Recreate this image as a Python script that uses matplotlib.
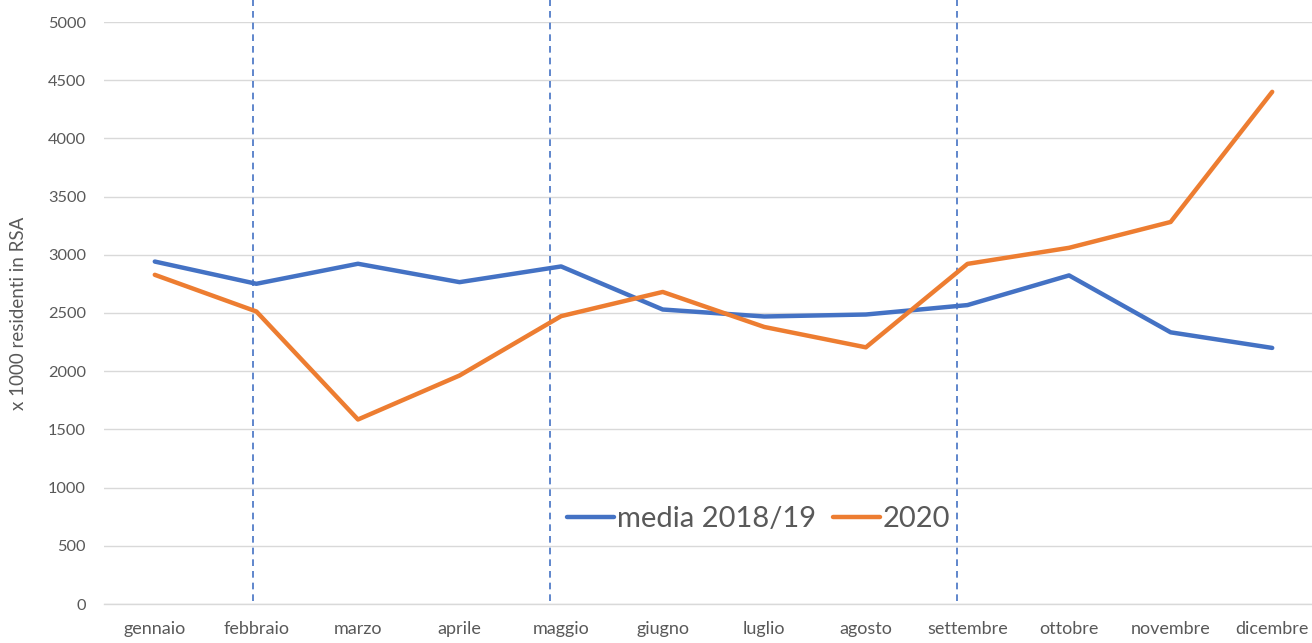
import numpy as np
import matplotlib
matplotlib.use('Agg')
import matplotlib.pyplot as plt

# Values
months = ['gennaio', 'febbraio', 'marzo', 'aprile', 'maggio', 'giugno',
          'luglio', 'agosto', 'settembre', 'ottobre', 'novembre', 'dicembre']
media_2018_19 = [2942, 2751, 2923, 2765, 2900, 2530, 2470, 2487, 2568, 2823, 2334, 2200]
anno_2020 = [2828, 2513, 1585, 1963, 2473, 2681, 2380, 2205, 2922, 3060, 3282, 4400]
# positions of the dashed markers (in category units, hand-drawn in the original)
markers = [0.97, 3.89, 7.90]

plt.rcParams['font.family'] = ['Lato', 'DejaVu Sans']
grey = '#595959'
blue = '#4472C4'
orange = '#ED7D31'

fig = plt.figure(figsize=(13.12, 6.43), dpi=100)
ax = fig.add_axes([104/1312, 39/643, 1219/1312, 582/643])

x = np.arange(len(months))
ax.plot(x, media_2018_19, color=blue, lw=3.2, solid_capstyle='round',
        solid_joinstyle='round', label='media 2018/19', zorder=3)
ax.plot(x, anno_2020, color=orange, lw=3.2, solid_capstyle='round',
        solid_joinstyle='round', label='2020', zorder=3)

# dashed vertical lines run up to the top of the picture
for m in markers:
    ax.plot([m, m], [30, 5190], color=blue, lw=1.2, ls=(0, (4, 3)),
            clip_on=False, zorder=2)

ax.set_xlim(-0.5, 11.5)
ax.set_ylim(0, 5000)
ax.set_yticks(np.arange(0, 5001, 500))
ax.set_xticks(x)
ax.set_xticklabels(months)
ax.yaxis.grid(True, color='#d9d9d9', lw=1)
ax.set_axisbelow(True)
for s in ['top', 'right', 'left']:
    ax.spines[s].set_visible(False)
ax.spines['bottom'].set_color('#d9d9d9')
ax.spines['bottom'].set_linewidth(1)
ax.tick_params(axis='both', length=0, colors=grey)
ax.tick_params(axis='y', pad=13, labelsize=11.8)
ax.tick_params(axis='x', pad=12, labelsize=13)

ax.set_ylabel('x 1000 residenti in RSA', color=grey, fontsize=13.5)
ax.yaxis.set_label_coords(-0.063, 0.5)

leg = ax.legend(loc='center', bbox_to_anchor=(0.537, 0.146), ncol=2,
                frameon=False, fontsize=21, handlelength=1.6,
                handletextpad=0.1, columnspacing=0.6)
for t in leg.get_texts():
    t.set_color(grey)

fig.savefig('out.png', dpi=100)
